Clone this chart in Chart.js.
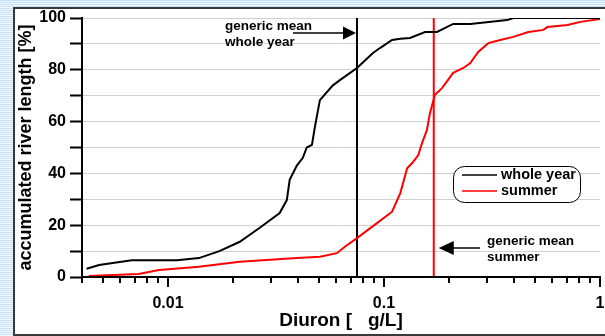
<!DOCTYPE html>
<html>
<head>
<meta charset="utf-8">
<script src="https://cdn.jsdelivr.net/npm/chart.js@4"></script>
<style>
  html, body { margin: 0; padding: 0; }
  body {
    width: 605px; height: 336px; overflow: hidden; position: relative;
    background: repeating-linear-gradient(to bottom, #c2e1f6 0px, #c2e1f6 1px, #f3f9fe 1px, #f3f9fe 2px);
  }
  #panel {
    position: absolute; left: 13px; top: 7px; width: 700px; height: 325px;
    background: #ffffff; border: 2px solid #3a3a3a; box-sizing: content-box;
  }
  #c { position: absolute; left: 0; top: 0; }
</style>
</head>
<body>
<div id="panel"></div>
<canvas id="c" width="605" height="336"></canvas>
<script>
// ---- data ----
const wholeYearX = [0.0042, 0.0048, 0.0068, 0.011, 0.0139, 0.0173, 0.0215, 0.0266, 0.0329, 0.0355, 0.0366, 0.0395, 0.0421, 0.0439, 0.0464, 0.0479, 0.0505, 0.058, 0.0625, 0.075, 0.0889, 0.0958, 0.109, 0.119, 0.132, 0.155, 0.176, 0.209, 0.251, 0.372, 0.397, 1];
const wholeYearY = [3.2, 4.6, 6.5, 6.5, 7.3, 10, 13.6, 19, 24.7, 29.7, 37.5, 43, 46, 50, 51, 58, 68.3, 74, 76, 80.7, 86.5, 88.4, 91.5, 92, 92.3, 94.6, 94.6, 97.7, 97.7, 99.2, 100, 100];
const summerX = [0.0043, 0.0073, 0.0091, 0.0139, 0.0215, 0.0395, 0.0505, 0.0605, 0.0659, 0.075, 0.0928, 0.109, 0.119, 0.128, 0.135, 0.144, 0.15, 0.158, 0.163, 0.172, 0.186, 0.209, 0.233, 0.251, 0.273, 0.304, 0.345, 0.397, 0.466, 0.547, 0.571, 0.706, 0.812, 1];
const summerY = [0.4, 1.2, 2.7, 4, 5.9, 7.3, 7.8, 9.2, 11.7, 15, 20.8, 25.2, 32.4, 42, 44, 47, 51.7, 56.7, 63, 70.3, 73, 78.8, 80.7, 82.6, 86.9, 90.3, 91.5, 92.7, 94.6, 95.4, 96.5, 97.3, 98.5, 99.6];
const meanWholeYear = 0.075;
const meanSummer = 0.17;
const seriesLabels = ['whole year', 'summer'];
const xTickValues = [0.004, 0.005, 0.006, 0.007, 0.008, 0.009, 0.01, 0.02, 0.03, 0.04, 0.05, 0.06, 0.07, 0.08, 0.09, 0.1, 0.2, 0.3, 0.4, 0.5, 0.6, 0.7, 0.8, 0.9, 1];
const xLabelValues = [0.01, 0.1, 1];
const xLabelTexts = ['0.01', '0.1', '1'];
const yLabelValues = [0, 20, 40, 60, 80, 100];
const xTitle = 'Diuron [   g/L]';
const yTitle = 'accumulated river length [%]';
const noteWholeYear = ['generic mean', 'whole year'];
const noteSummer = ['generic mean', 'summer'];

const toPts = (xs, ys) => xs.map((x, i) => ({ x: x, y: ys[i] }));
const FONT = '"Liberation Sans", Arial, sans-serif';
const near = (a, b) => Math.abs(a - b) / b < 1e-6;

const overlay = {
  id: 'overlay',
  afterDraw(chart) {
    const ctx = chart.ctx;
    const xs = chart.scales.x, ys = chart.scales.y;
    const a = chart.chartArea;
    ctx.save();
    // x axis line and ticks
    ctx.strokeStyle = '#000';
    ctx.lineWidth = 2;
    ctx.beginPath();
    ctx.moveTo(a.left - 1, a.bottom);
    ctx.lineTo(a.right + 1, a.bottom);
    ctx.stroke();
    xTickValues.forEach(v => {
      const px = Math.round(xs.getPixelForValue(v));
      const len = xLabelValues.some(t => near(v, t)) ? 10 : 6;
      ctx.beginPath();
      ctx.moveTo(px, a.bottom);
      ctx.lineTo(px, a.bottom + len);
      ctx.stroke();
    });

    // annotation: whole year
    ctx.fillStyle = '#000';
    ctx.font = 'bold 13.5px ' + FONT;
    ctx.textAlign = 'left';
    ctx.textBaseline = 'middle';
    const wx = xs.getPixelForValue(meanWholeYear);
    const ay1 = ys.getPixelForValue(94.2);
    ctx.fillText(noteWholeYear[0], 225, ys.getPixelForValue(96.7));
    ctx.fillText(noteWholeYear[1], 225, ys.getPixelForValue(90.6));
    ctx.lineWidth = 1.5;
    ctx.beginPath();
    ctx.moveTo(293, ay1);
    ctx.lineTo(wx - 12, ay1);
    ctx.stroke();
    ctx.beginPath();
    ctx.moveTo(wx - 1, ay1);
    ctx.lineTo(wx - 14, ay1 - 6.5);
    ctx.lineTo(wx - 14, ay1 + 6.5);
    ctx.closePath();
    ctx.fill();

    // annotation: summer
    const sx = xs.getPixelForValue(meanSummer);
    const ay2 = ys.getPixelForValue(11.2);
    ctx.fillText(noteSummer[0], 487, ys.getPixelForValue(13.9));
    ctx.fillText(noteSummer[1], 487, ys.getPixelForValue(7.7));
    ctx.beginPath();
    ctx.moveTo(480, ay2);
    ctx.lineTo(sx + 16, ay2);
    ctx.stroke();
    ctx.beginPath();
    ctx.moveTo(sx + 5, ay2);
    ctx.lineTo(sx + 20, ay2 - 7);
    ctx.lineTo(sx + 20, ay2 + 7);
    ctx.closePath();
    ctx.fill();

    // legend box
    const bx = 453, by = 166, bw = 127, bh = 36, r = 11;
    ctx.lineWidth = 1;
    ctx.strokeStyle = '#000';
    ctx.fillStyle = '#fff';
    ctx.beginPath();
    ctx.roundRect(bx + 0.5, by + 0.5, bw, bh, r);
    ctx.fill();
    ctx.stroke();
    ctx.font = 'bold 14.5px ' + FONT;
    const colors = chart.data.datasets.slice(0, 2).map(d => d.borderColor);
    [175, 191].forEach((yy, i) => {
      ctx.strokeStyle = colors[i];
      ctx.lineWidth = 1.5;
      ctx.beginPath();
      ctx.moveTo(462, yy);
      ctx.lineTo(497, yy);
      ctx.stroke();
      ctx.fillStyle = '#000';
      ctx.fillText(seriesLabels[i], 501, yy);
    });
    ctx.restore();
  }
};

new Chart(document.getElementById('c'), {
  type: 'line',
  data: {
    datasets: [
      { label: seriesLabels[0], data: toPts(wholeYearX, wholeYearY), borderColor: '#000000', borderWidth: 2, pointRadius: 0, tension: 0 },
      { label: seriesLabels[1], data: toPts(summerX, summerY), borderColor: '#ff0000', borderWidth: 2, pointRadius: 0, tension: 0 },
      { label: 'mean whole year', data: [{ x: meanWholeYear, y: 0 }, { x: meanWholeYear, y: 100 }], borderColor: '#000000', borderWidth: 2, pointRadius: 0 },
      { label: 'mean summer', data: [{ x: meanSummer, y: 0 }, { x: meanSummer, y: 100 }], borderColor: '#ff0000', borderWidth: 2, pointRadius: 0 }
    ]
  },
  options: {
    responsive: false,
    animation: false,
    devicePixelRatio: 1,
    layout: { padding: { left: 0, right: 5, top: 18, bottom: 0 } },
    plugins: { legend: { display: false }, tooltip: { enabled: false } },
    scales: {
      x: {
        type: 'logarithmic',
        min: 0.004,
        max: 1,
        afterBuildTicks: s => { s.ticks = xTickValues.map(v => ({ value: v })); },
        afterFit: s => { s.height = 59; s.paddingLeft = 0; s.paddingRight = 0; },
        grid: { display: false, drawTicks: false },
        border: { display: false },
        ticks: {
          autoSkip: false, maxRotation: 0, minRotation: 0, padding: 17,
          color: '#000', font: { family: FONT, size: 16, weight: 'bold' },
          callback: v => { const i = xLabelValues.findIndex(t => near(v, t)); return i >= 0 ? xLabelTexts[i] : ''; }
        },
        title: { display: true, text: xTitle, color: '#000', font: { family: FONT, size: 19, weight: 'bold' }, padding: { top: 0, bottom: 3.5 } }
      },
      y: {
        min: 0,
        max: 100,
        afterFit: s => { s.width = 82; s.paddingTop = 0; s.paddingBottom = 0; },
        grid: { color: '#d0d0d0', lineWidth: 1, tickColor: '#000', tickLength: 12, tickWidth: 2 },
        border: { display: true, color: '#000', width: 2 },
        ticks: {
          stepSize: 10, padding: 4, color: '#000', font: { family: FONT, size: 16, weight: 'bold' },
          callback: v => (yLabelValues.includes(v) ? String(v) : '')
        },
        title: { display: true, text: yTitle, color: '#000', font: { family: FONT, size: 18, weight: 'bold' }, padding: { top: 15, bottom: 0 } }
      }
    }
  },
  plugins: [overlay]
});
</script>
</body>
</html>
